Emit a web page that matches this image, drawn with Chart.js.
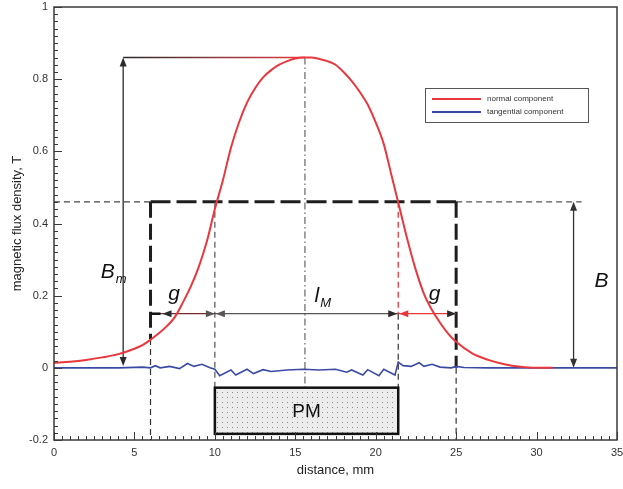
<!DOCTYPE html>
<html>
<head>
<meta charset="utf-8">
<script src="https://cdn.jsdelivr.net/npm/chart.js@4.4.1/dist/chart.umd.min.js"></script>
<style>
  html, body { margin: 0; padding: 0; background: #fff; }
  #wrap { width: 623px; height: 489px; }
</style>
</head>
<body>
<div id="wrap"><canvas id="chart"></canvas></div>
<script>
// values (distance in mm, flux density in T)
const distance = [0, 1, 2, 3, 4, 5, 5.5, 6, 6.5, 7, 7.5, 8, 8.5, 9, 9.5, 10, 10.5, 11, 11.5, 12, 12.5, 13, 13.5, 14, 14.5, 15, 15.5, 16, 16.5, 17, 17.5, 18, 18.5, 19, 19.5, 20, 20.5, 21, 21.5, 22, 22.5, 23, 23.5, 24, 24.5, 25, 26, 27, 28, 29, 30, 31];
const normalB = [0.014, 0.017, 0.022, 0.029, 0.038, 0.053, 0.063, 0.078, 0.095, 0.115, 0.14, 0.18, 0.225, 0.28, 0.35, 0.44, 0.52, 0.61, 0.68, 0.735, 0.775, 0.805, 0.825, 0.84, 0.85, 0.857, 0.86, 0.86, 0.856, 0.85, 0.84, 0.82, 0.795, 0.765, 0.73, 0.68, 0.62, 0.53, 0.44, 0.35, 0.27, 0.205, 0.16, 0.125, 0.095, 0.072, 0.04, 0.022, 0.01, 0.003, 0, 0];

const tanDistance = [0, 2, 4, 5.5, 6.0, 6.3, 6.6, 7.2, 7.8, 8.3, 8.7, 9.2, 9.7, 10.0, 10.3, 11.0, 11.3, 12.0, 12.4, 13.0, 13.5, 14.5, 15.5, 16.5, 17.5, 18.2, 18.5, 19.2, 19.5, 20.2, 20.5, 21.2, 21.4, 21.7, 22.2, 22.7, 23.0, 23.5, 24.0, 24.7, 25.0, 25.5, 27, 30, 35];
const tangentialB = [0, 0, 0, 0.002, 0, 0.006, 0, 0.004, -0.002, 0.012, 0.004, 0.01, 0, -0.004, -0.022, -0.006, -0.02, -0.004, -0.016, -0.005, -0.01, -0.006, -0.004, -0.006, -0.004, -0.012, -0.006, -0.02, -0.005, -0.022, -0.004, -0.02, 0.016, 0.006, 0.004, 0.014, 0.004, 0.01, 0.002, 0, 0.004, 0.001, 0, 0, 0];

const xTicks = [0, 5, 10, 15, 20, 25, 30, 35];
const yTicks = [-0.2, 0, 0.2, 0.4, 0.6, 0.8, 1];

// sketch marks, in data units
const gapLeft = 6, magnetLeft = 10, magnetRight = 21.4, gapRight = 25, peakX = 15.6;
const peakB = 0.86, levelB = 0.46, arrowB = 0.15;
const bmX = 4.3, bX = 32.3, levelEnd = 32.8;
const pmTop = -0.055, pmBottom = -0.183;

const RED = '#e8383d';
const BLUE = '#3b4ba3';
const DARK = '#2a2a2a';
const FONT = '"Liberation Sans", Arial, sans-serif';

function seg(ctx, x1, y1, x2, y2, color, width, dash) {
    ctx.save();
    ctx.strokeStyle = color;
    ctx.lineWidth = width;
    ctx.setLineDash(dash || []);
    ctx.beginPath();
    ctx.moveTo(x1, y1);
    ctx.lineTo(x2, y2);
    ctx.stroke();
    ctx.restore();
}

function head(ctx, x, y, angle, color) {
    ctx.save();
    ctx.translate(x, y);
    ctx.rotate(angle);
    ctx.fillStyle = color;
    ctx.beginPath();
    ctx.moveTo(0, 0);
    ctx.lineTo(-9, -3.5);
    ctx.lineTo(-9, 3.5);
    ctx.closePath();
    ctx.fill();
    ctx.restore();
}

function symbol(ctx, x, y, main, sub, size) {
    ctx.save();
    ctx.fillStyle = '#111';
    ctx.textBaseline = 'middle';
    ctx.textAlign = 'left';
    ctx.font = 'italic ' + size + 'px ' + FONT;
    ctx.fillText(main, x, y);
    if (sub) {
        const w = ctx.measureText(main).width;
        ctx.font = 'italic ' + Math.round(size * 0.6) + 'px ' + FONT;
        ctx.fillText(sub, x + w + 1, y + size * 0.35);
    }
    ctx.restore();
}

const sketch = {
    id: 'sketch',
    beforeDatasetsDraw(chart) {
        const ctx = chart.ctx;
        const xs = chart.scales.x, ys = chart.scales.y;
        const X = v => xs.getPixelForValue(v), Y = v => ys.getPixelForValue(v);
        const bottom = chart.chartArea.bottom;

        // peak level and B_m arrow
        const grad = ctx.createLinearGradient(X(bmX), 0, X(peakX), 0);
        grad.addColorStop(0, DARK);
        grad.addColorStop(0.5, '#8a3a3a');
        grad.addColorStop(1, RED);
        seg(ctx, X(bmX), Y(peakB), X(peakX), Y(peakB), grad, 1.5);
        seg(ctx, X(bmX), Y(peakB) + 6, X(bmX), Y(0.005) - 6, DARK, 1.3);
        head(ctx, X(bmX), Y(peakB), -Math.PI / 2, DARK);
        head(ctx, X(bmX), Y(0.005), Math.PI / 2, DARK);

        // dash-dot centre line
        seg(ctx, X(peakX), Y(peakB), X(peakX), Y(pmTop), '#666', 1.2, [7, 3, 1.5, 3]);

        // level B: thin dashes outside, heavy dashes across the gap box
        seg(ctx, X(0), Y(levelB), X(gapLeft), Y(levelB), '#444', 1.2, [6, 4]);
        seg(ctx, X(gapLeft), Y(levelB), X(gapRight), Y(levelB), '#1e1e1e', 3, [20, 6]);
        seg(ctx, X(gapRight), Y(levelB), X(levelEnd), Y(levelB), '#555', 1.2, [6, 4]);

        // gap box verticals
        seg(ctx, X(gapLeft), Y(levelB), X(gapLeft), Y(0.08), '#1e1e1e', 3, [16, 6]);
        seg(ctx, X(gapLeft), Y(0.08), X(gapLeft), bottom, '#333', 1.2, [6, 4]);
        seg(ctx, X(gapRight), Y(levelB), X(gapRight), Y(0.0), '#1e1e1e', 3, [16, 6]);
        seg(ctx, X(gapRight), Y(0.0), X(gapRight), bottom, '#333', 1.2, [6, 4]);

        // magnet edges
        seg(ctx, X(magnetLeft), Y(levelB), X(magnetLeft), Y(pmTop), '#555', 1.2, [6, 4]);
        seg(ctx, X(magnetRight), Y(levelB), X(magnetRight), Y(arrowB), RED, 1.3, [6, 4]);
        seg(ctx, X(magnetRight), Y(arrowB), X(magnetRight), Y(pmTop), '#333', 1.2, [6, 4]);

        // g, l_M, g dimension arrows
        const yA = Y(arrowB);
        seg(ctx, X(gapLeft), yA, X(magnetLeft), yA, '#7a2a2a', 1.3);
        seg(ctx, X(magnetLeft), yA, X(magnetRight), yA, '#555', 1.3);
        seg(ctx, X(magnetRight), yA, X(gapRight), yA, RED, 1.3);
        head(ctx, X(gapLeft) + 12, yA, Math.PI, DARK);
        head(ctx, X(magnetLeft), yA, 0, '#555');
        head(ctx, X(magnetLeft) + 1, yA, Math.PI, '#555');
        head(ctx, X(magnetRight) - 1, yA, 0, DARK);
        head(ctx, X(magnetRight) + 1, yA, Math.PI, RED);
        head(ctx, X(gapRight), yA, 0, DARK);
        seg(ctx, X(gapLeft), yA, X(gapLeft) + 10, yA, '#111', 2.5);

        // B arrow on the right
        seg(ctx, X(bX), Y(levelB) + 6, X(bX), Y(0) - 6, '#333', 1.3);
        head(ctx, X(bX), Y(levelB), -Math.PI / 2, '#333');
        head(ctx, X(bX), Y(0), Math.PI / 2, '#333');
    },
    afterDatasetsDraw(chart) {
        const ctx = chart.ctx;
        const xs = chart.scales.x, ys = chart.scales.y;
        const X = v => xs.getPixelForValue(v), Y = v => ys.getPixelForValue(v);
        const area = chart.chartArea;

        // PM block
        const pat = document.createElement('canvas');
        pat.width = 5; pat.height = 5;
        const pc = pat.getContext('2d');
        pc.fillStyle = '#ececec';
        pc.fillRect(0, 0, 5, 5);
        pc.fillStyle = '#8e8e8e';
        pc.fillRect(2, 2, 1, 1);
        const bx = X(magnetLeft), by = Y(pmTop), bw = X(magnetRight) - bx, bh = Y(pmBottom) - by;
        ctx.save();
        ctx.fillStyle = ctx.createPattern(pat, 'repeat');
        ctx.fillRect(bx, by, bw, bh);
        ctx.strokeStyle = '#111';
        ctx.lineWidth = 2.5;
        ctx.strokeRect(bx, by, bw, bh);
        ctx.fillStyle = '#111';
        ctx.font = '19px ' + FONT;
        ctx.textAlign = 'center';
        ctx.textBaseline = 'middle';
        ctx.fillText('PM', bx + bw / 2, by + bh / 2 + 1);
        ctx.restore();

        // symbols
        symbol(ctx, X(2.9), Y(0.265), 'B', 'm', 21);
        symbol(ctx, X(7.1), Y(0.205), 'g', '', 21);
        symbol(ctx, X(23.3), Y(0.205), 'g', '', 21);
        symbol(ctx, X(16.2), Y(0.2), 'l', 'M', 21);
        symbol(ctx, X(33.6), Y(0.24), 'B', '', 21);

        // legend
        ctx.save();
        const lx = 425, ly = 88, lw = 163, lh = 34;
        ctx.fillStyle = '#fff';
        ctx.fillRect(lx, ly, lw, lh);
        ctx.strokeStyle = '#555';
        ctx.lineWidth = 1;
        ctx.strokeRect(lx + 0.5, ly + 0.5, lw, lh);
        ctx.font = '8px ' + FONT;
        ctx.textBaseline = 'middle';
        chart.data.datasets.forEach((ds, i) => {
            const yy = ly + 11 + i * 13;
            seg(ctx, lx + 7, yy, lx + 56, yy, ds.borderColor, 1.8);
            ctx.fillStyle = '#333';
            ctx.fillText(ds.label, lx + 62, yy);
        });
        ctx.restore();

        // frame and inward ticks
        ctx.save();
        ctx.strokeStyle = '#3a3a3a';
        ctx.lineWidth = 1.5;
        ctx.strokeRect(area.left, area.top, area.right - area.left, area.bottom - area.top);
        ctx.lineWidth = 1;
        ctx.beginPath();
        for (let i = 0; i <= 60; i++) {
            const v = -0.2 + i * 0.02;
            const p = Math.round(Y(v)) + 0.5;
            const len = i % 10 === 0 ? 8 : 4;
            ctx.moveTo(area.left, p); ctx.lineTo(area.left + len, p);
        }
        for (let i = 0; i <= 70; i++) {
            const v = i * 0.5;
            const p = Math.round(X(v)) + 0.5;
            const len = i % 10 === 0 ? 8 : 4;
            ctx.moveTo(p, area.bottom); ctx.lineTo(p, area.bottom - len);
        }
        ctx.stroke();
        ctx.restore();
    }
};

new Chart(document.getElementById('chart'), {
    type: 'line',
    data: {
        datasets: [{
            label: 'normal component',
            data: distance.map((x, i) => ({ x: x, y: normalB[i] })),
            borderColor: RED,
            borderWidth: 2,
            pointRadius: 0,
            tension: 0.35,
            cubicInterpolationMode: 'monotone'
        }, {
            label: 'tangential component',
            data: tanDistance.map((x, i) => ({ x: x, y: tangentialB[i] })),
            borderColor: BLUE,
            borderWidth: 1.6,
            pointRadius: 0,
            tension: 0
        }]
    },
    options: {
        responsive: true,
        maintainAspectRatio: false,
        animation: false,
        layout: { padding: { top: 7, right: 6, left: 0, bottom: 0 } },
        plugins: { legend: { display: false }, tooltip: { enabled: false } },
        scales: {
            x: {
                type: 'linear',
                min: 0,
                max: 35,
                afterBuildTicks: s => { s.ticks = xTicks.map(v => ({ value: v })); },
                afterFit: s => { s.height = 49; s.paddingRight = 0; s.paddingLeft = 0; },
                grid: { display: false, drawTicks: false },
                border: { display: false },
                ticks: { padding: 6, maxRotation: 0, autoSkip: false, color: '#333', font: { size: 11, family: FONT } },
                title: { display: true, text: 'distance, mm', color: '#222', padding: { top: 0, bottom: 11 }, font: { size: 13, family: FONT } }
            },
            y: {
                min: -0.2,
                max: 1,
                afterBuildTicks: s => { s.ticks = yTicks.map(v => ({ value: v })); },
                afterFit: s => { s.width = 54; s.paddingTop = 0; s.paddingBottom = 0; },
                grid: { display: false, drawTicks: false },
                border: { display: false },
                ticks: { padding: 6, color: '#333', callback: v => String(Math.round(v * 10) / 10), font: { size: 11, family: FONT } },
                title: { display: true, text: 'magnetic flux density, T', color: '#222', padding: { top: 10, bottom: 0 }, font: { size: 13, family: FONT } }
            }
        }
    },
    plugins: [sketch]
});
</script>
</body>
</html>
